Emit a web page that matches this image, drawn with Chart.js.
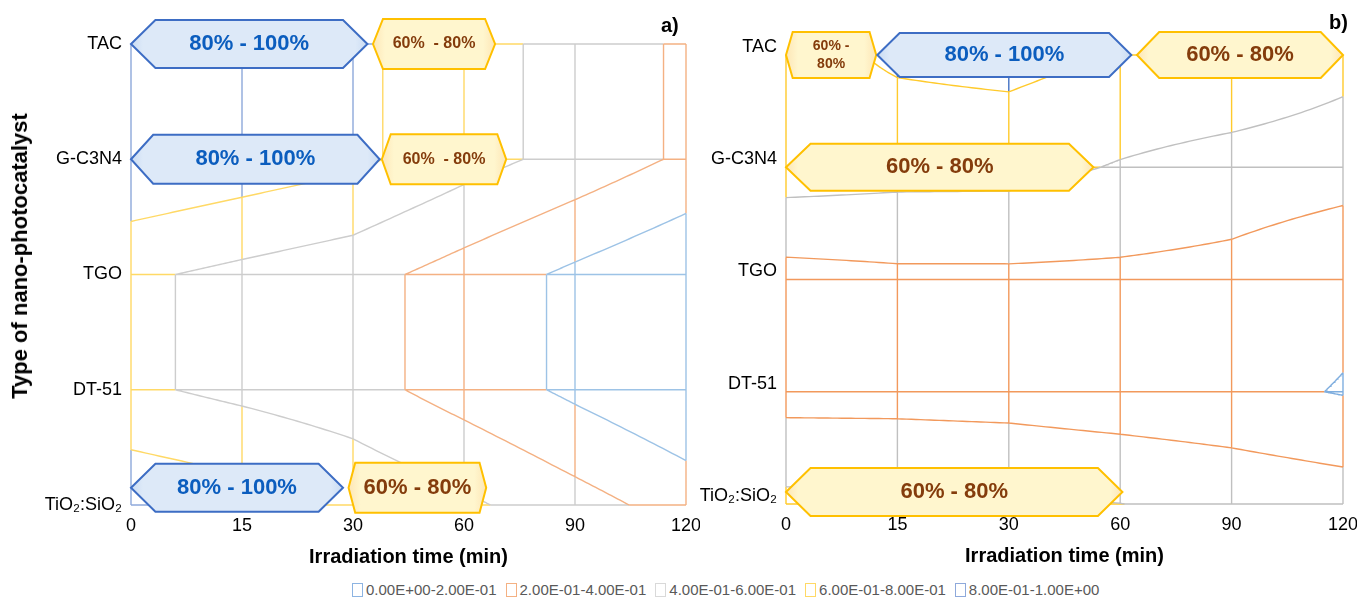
<!DOCTYPE html>
<html>
<head>
<meta charset="utf-8">
<script src="https://cdn.jsdelivr.net/npm/chart.js@4.4.1/dist/chart.umd.min.js"></script>
<style>
  body { margin: 0; background: #fff; font-family: "Liberation Sans", Arial, sans-serif; }
  #wrap { position: relative; width: 1357px; height: 601px; overflow: hidden; }
  canvas { position: absolute; top: 0; }
  .tag { position: absolute; font: bold 20px "Liberation Sans", Arial, sans-serif; color: #000; }
  #ytitle { position: absolute; left: 20px; top: 256px; transform: translate(-50%, -50%) rotate(-90deg);
            font: bold 22px "Liberation Sans", Arial, sans-serif; color: #000; white-space: nowrap; }
  #legend { position: absolute; left: 352px; top: 581px; display: flex; font-size: 15px; color: #595959; white-space: nowrap; }
  #legend .item { display: flex; align-items: center; margin-right: 9px; }
  #legend .sw { width: 9px; height: 12px; border: 1px solid; margin-right: 3px; background: #fff; }
</style>
</head>
<body>
<div id="wrap">
  <canvas id="chartA" width="700" height="575" style="left:0"></canvas>
  <canvas id="chartB" width="677" height="574" style="left:680px"></canvas>
  <div id="ytitle">Type of nano-photocatalyst</div>
  <div class="tag" style="left:661px;top:14px">a)</div>
  <div class="tag" style="left:1329px;top:11px">b)</div>
  <div id="legend"></div>
</div>
<script>
// axis categories
const times = ["0", "15", "30", "60", "90", "120"];
const catalysts = ["TiO\u2082:SiO\u2082", "DT-51", "TGO", "G-C3N4", "TAC"];
const bandNames = ["0.00E+00-2.00E-01", "2.00E-01-4.00E-01", "4.00E-01-6.00E-01", "6.00E-01-8.00E-01", "8.00E-01-1.00E+00"];
const bandLevels = [0.2, 0.4, 0.6, 0.8];

// a) surface values, one row per catalyst (0 -> 120 min)
const aTiO2SiO2 = [0.955, 0.892, 0.77, 0.638, 0.478, 0.318];
const aDT51 = [0.632, 0.552, 0.474, 0.316, 0.16, 0.012];
const aTGO = [0.632, 0.552, 0.474, 0.316, 0.16, 0.012];
const aGC3N4 = [0.997, 0.922, 0.844, 0.68, 0.53, 0.367];
const aTAC = [0.997, 0.922, 0.844, 0.68, 0.53, 0.367];

// b) surface values
const bTiO2SiO2 = [0.65, 0.64, 0.63, 0.602, 0.55, 0.503];
const bDT51 = [0.325, 0.324, 0.311, 0.277, 0.25, 0.19];
const bTGO = [0.325, 0.356, 0.357, 0.354, 0.333, 0.249];
const bGC3N4 = [0.702, 0.669, 0.665, 0.586, 0.52, 0.478];
const bTAC = [0.72, 0.833, 0.866, 0.79, 0.778, 0.672];

const colorsA = ["#9DC3E6", "#F4B183", "#CDCDCD", "#FFD966", "#8EA9DB"];
const colorsB = ["#7FAEDF", "#F2995C", "#C0C0C0", "#FFCA2C", "#4472C4"];
const legendColors = ["#8DB4E2", "#F4B183", "#D9D9D9", "#FFD966", "#8EA9DB"];

// range call-outs (positions in axis units)
const hexA = [
  { row: 4, from: 0, to: 2.13, tip: 0.22, h: 48, text: ["80% - 100%"], size: 22, kind: "blue" },
  { row: 4, from: 2.18, to: 3.28, tip: 0.09, h: 50, text: ["60%  - 80%"], size: 16, kind: "yellow" },
  { row: 3, from: 0, to: 2.24, tip: 0.2, h: 49, text: ["80% - 100%"], size: 22, kind: "blue" },
  { row: 3, from: 2.26, to: 3.38, tip: 0.08, h: 50, text: ["60%  - 80%"], size: 16, kind: "yellow" },
  { row: 0.15, from: 0, to: 1.91, tip: 0.22, h: 48, text: ["80% - 100%"], size: 22, kind: "blue" },
  { row: 0.15, from: 1.96, to: 3.2, tip: 0.06, h: 50, text: ["60% - 80%"], size: 22, kind: "yellow" }
];
const hexB = [
  { row: 4, from: 0, to: 0.81, tip: 0.06, h: 46, text: ["60% -", "80%"], size: 14, kind: "yellow" },
  { row: 4, from: 0.82, to: 3.1, tip: 0.2, h: 44, text: ["80% - 100%"], size: 22, kind: "blue" },
  { row: 4, from: 3.15, to: 5, tip: 0.2, h: 46, text: ["60% - 80%"], size: 22, kind: "yellow" },
  { row: 3, from: 0, to: 2.76, tip: 0.22, h: 47, text: ["60% - 80%"], size: 22, kind: "yellow" },
  { row: 0.107, from: 0, to: 3.02, tip: 0.22, h: 48, text: ["60% - 80%"], size: 22, kind: "yellow" }
];

function bandOf(v) {
  return bandLevels.filter((L) => v >= L).length;
}

// colour each piece of the wireframe by the band it sits in
function addEdge(out, z0, z1, p0, p1) {
  const ts = [0, 1];
  bandLevels.forEach((L) => {
    if ((z0 < L) !== (z1 < L)) ts.push((L - z0) / (z1 - z0));
  });
  ts.sort((a, b) => a - b);
  for (let k = 0; k < ts.length - 1; k++) {
    const m = (ts[k] + ts[k + 1]) / 2;
    const band = bandOf(z0 + (z1 - z0) * m);
    const a = ts[k], b = ts[k + 1];
    out[band].push(
      { x: p0[0] + (p1[0] - p0[0]) * a, y: p0[1] + (p1[1] - p0[1]) * a },
      { x: p0[0] + (p1[0] - p0[0]) * b, y: p0[1] + (p1[1] - p0[1]) * b },
      { x: p0[0], y: null }
    );
  }
}

// contour through one grid cell (bilinear surface)
function traceCell(z00, z10, z01, z11, L, p, q, n) {
  const b = z10 - z00, c = z01 - z00, d = z00 - z10 - z01 + z11;
  const pts = [];
  const byU = Math.abs(q[0] - p[0]) >= Math.abs(q[1] - p[1]);
  for (let k = 0; k <= n; k++) {
    const s = k / n;
    let u, v;
    if (byU) {
      u = p[0] + (q[0] - p[0]) * s;
      const den = c + d * u;
      v = Math.abs(den) < 1e-9 ? p[1] + (q[1] - p[1]) * s : (L - z00 - b * u) / den;
    } else {
      v = p[1] + (q[1] - p[1]) * s;
      const den = b + d * v;
      u = Math.abs(den) < 1e-9 ? p[0] + (q[0] - p[0]) * s : (L - z00 - c * v) / den;
    }
    pts.push([Math.min(1, Math.max(0, u)), Math.min(1, Math.max(0, v))]);
  }
  return pts;
}

function buildSurface(rows) {
  const out = [[], [], [], [], []];
  const nx = rows[0].length, ny = rows.length;
  for (let j = 0; j < ny; j++)
    for (let i = 0; i < nx - 1; i++) addEdge(out, rows[j][i], rows[j][i + 1], [i, j], [i + 1, j]);
  for (let i = 0; i < nx; i++)
    for (let j = 0; j < ny - 1; j++) addEdge(out, rows[j][i], rows[j + 1][i], [i, j], [i, j + 1]);

  for (let j = 0; j < ny - 1; j++) {
    for (let i = 0; i < nx - 1; i++) {
      const z00 = rows[j][i], z10 = rows[j][i + 1], z01 = rows[j + 1][i], z11 = rows[j + 1][i + 1];
      bandLevels.forEach((L, k) => {
        const hits = [];
        const cross = (a, b) => ((a < L) !== (b < L) ? (L - a) / (b - a) : null);
        let t;
        if ((t = cross(z00, z10)) !== null) hits.push([t, 0]);
        if ((t = cross(z10, z11)) !== null) hits.push([1, t]);
        if ((t = cross(z01, z11)) !== null) hits.push([t, 1]);
        if ((t = cross(z00, z01)) !== null) hits.push([0, t]);
        for (let h = 0; h + 1 < hits.length; h += 2) {
          traceCell(z00, z10, z01, z11, L, hits[h], hits[h + 1], 24).forEach((uv) => {
            out[k].push({ x: i + uv[0], y: j + uv[1] });
          });
          out[k].push({ x: i, y: null });
        }
      });
    }
  }
  return out;
}

function hexPlugin(items) {
  return {
    id: "hexLabels",
    afterDatasetsDraw(chart) {
      const ctx = chart.ctx;
      const xs = chart.scales.x, ys = chart.scales.y;
      const unit = xs.getPixelForValue(1) - xs.getPixelForValue(0);
      items.forEach((h) => {
        const xl = xs.getPixelForValue(h.from), xr = xs.getPixelForValue(h.to);
        const cy = ys.getPixelForValue(h.row);
        const tip = h.tip * unit, half = h.h / 2;
        ctx.save();
        ctx.beginPath();
        ctx.moveTo(xl, cy);
        ctx.lineTo(xl + tip, cy - half);
        ctx.lineTo(xr - tip, cy - half);
        ctx.lineTo(xr, cy);
        ctx.lineTo(xr - tip, cy + half);
        ctx.lineTo(xl + tip, cy + half);
        ctx.closePath();
        const g = ctx.createLinearGradient(xl, 0, xr, 0);
        const edge = h.kind === "blue" ? "#CADCF3" : "#FDE6B6";
        const mid = h.kind === "blue" ? "#DDE9F8" : "#FFF6CE";
        const f = Math.min(0.2, 12 / (xr - xl));
        g.addColorStop(0, edge);
        g.addColorStop(f, mid);
        g.addColorStop(1 - f, mid);
        g.addColorStop(1, edge);
        ctx.fillStyle = g;
        ctx.fill();
        ctx.lineWidth = 2;
        ctx.strokeStyle = h.kind === "blue" ? "#3D6DC4" : "#FFC000";
        ctx.stroke();
        ctx.fillStyle = h.kind === "blue" ? "#0B5DBE" : "#843C0C";
        ctx.font = "bold " + h.size + "px 'Liberation Sans', Arial, sans-serif";
        ctx.textAlign = "center";
        ctx.textBaseline = "middle";
        const lh = h.size * 1.25;
        h.text.forEach((line, n) => {
          ctx.fillText(line, (xl + xr) / 2, cy + (n - (h.text.length - 1) / 2) * lh);
        });
        ctx.restore();
      });
    }
  };
}

function makeChart(id, rows, colors, width, hexes, top, labelOffset) {
  const bands = buildSurface(rows);
  const datasets = bands.map((pts, k) => ({
    label: bandNames[k],
    data: pts,
    borderColor: colors[k],
    borderWidth: 1.4,
    pointRadius: 0,
    fill: false,
    spanGaps: false,
    tension: 0,
    clip: 4
  }));
  const tickFont = { family: "'Liberation Sans', Arial, sans-serif", size: 18 };
  return new Chart(document.getElementById(id), {
    type: "line",
    data: { datasets: datasets },
    options: {
      responsive: false,
      animation: false,
      layout: { padding: { top: top, right: 14, left: 0, bottom: 0 } },
      plugins: { legend: { display: false }, tooltip: { enabled: false } },
      scales: {
        x: {
          type: "linear",
          min: 0,
          max: 5,
          grid: { display: false, drawTicks: false },
          border: { display: false },
          ticks: {
            stepSize: 1,
            autoSkip: false,
            maxRotation: 0,
            padding: 10,
            color: "#000",
            font: tickFont,
            callback: (v) => times[v]
          },
          title: {
            display: true,
            text: "Irradiation time (min)",
            color: "#000",
            font: { family: "'Liberation Sans', Arial, sans-serif", size: 20, weight: "bold" },
            padding: { top: 0, bottom: 6 }
          },
          afterFit: (s) => { s.height = 70; s.paddingLeft = 0; s.paddingRight = 0; }
        },
        y: {
          type: "linear",
          min: 0,
          max: 4,
          grid: { display: false, drawTicks: false },
          border: { display: false },
          ticks: {
            stepSize: 1,
            autoSkip: false,
            padding: 9,
            labelOffset: labelOffset,
            color: "#000",
            font: tickFont,
            callback: (v) => catalysts[v]
          },
          afterFit: (s) => { s.width = width; s.paddingTop = 0; s.paddingBottom = 0; }
        }
      }
    },
    plugins: [hexPlugin(hexes)]
  });
}

document.addEventListener("DOMContentLoaded", () => {
  makeChart("chartA", [aTiO2SiO2, aDT51, aTGO, aGC3N4, aTAC], colorsA, 131, hexA, 44, 0);
  makeChart("chartB", [bTiO2SiO2, bDT51, bTGO, bGC3N4, bTAC], colorsB, 106, hexB, 55, -8);

  const legend = document.getElementById("legend");
  bandNames.forEach((name, k) => {
    const item = document.createElement("div");
    item.className = "item";
    const sw = document.createElement("span");
    sw.className = "sw";
    sw.style.borderColor = legendColors[k];
    const txt = document.createElement("span");
    txt.textContent = name;
    item.appendChild(sw);
    item.appendChild(txt);
    legend.appendChild(item);
  });
});
</script>
</body>
</html>
